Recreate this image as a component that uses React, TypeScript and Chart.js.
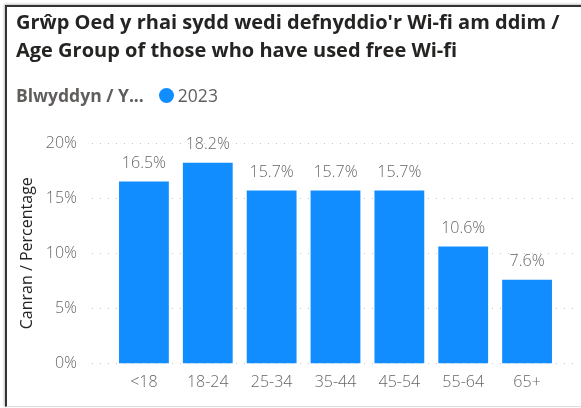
import React, { useEffect, useRef } from "react";
import { Chart, registerables } from "chart.js";

Chart.register(...registerables);

const titleLines = [
  "Grŵp Oed y rhai sydd wedi defnyddio'r Wi-fi am ddim /",
  "Age Group of those who have used free Wi-fi",
];
const legendTitle = "Blwyddyn / Y...";
const seriesName = "2023";
const categories = ["<18", "18-24", "25-34", "35-44", "45-54", "55-64", "65+"];
const values = [16.5, 18.2, 15.7, 15.7, 15.7, 10.6, 7.6];
const yTicks = [0, 5, 10, 15, 20];
const yAxisTitle = "Canran / Percentage";

const BLUE = "#118DFF";
const FONT = "'Open Sans', 'Noto Sans', sans-serif";

const gridPlugin = {
  id: "dottedGrid",
  beforeDatasetsDraw(chart: any) {
    const { ctx } = chart;
    const y = chart.scales.y;
    ctx.save();
    ctx.strokeStyle = "#C8C6C4";
    ctx.lineWidth = 1;
    ctx.setLineDash([1, 7]);
    y.ticks.forEach((t: any) => {
      const py = Math.round(y.getPixelForValue(t.value)) + 0.5;
      ctx.beginPath();
      ctx.moveTo(92, py);
      ctx.lineTo(576, py);
      ctx.stroke();
    });
    ctx.restore();
  },
};

const labelPlugin = {
  id: "barLabels",
  afterDatasetsDraw(chart: any) {
    const { ctx } = chart;
    const meta = chart.getDatasetMeta(0);
    ctx.save();
    ctx.fillStyle = "#666666";
    ctx.font = `300 16px ${FONT}`;
    ctx.textAlign = "center";
    ctx.textBaseline = "middle";
    meta.data.forEach((bar: any, i: number) => {
      ctx.fillText(values[i].toFixed(1) + "%", bar.x, bar.y - 18);
    });
    ctx.restore();
  },
};

export default function App() {
  const ref = useRef<HTMLCanvasElement>(null);
  useEffect(() => {
    if (!ref.current) return;
    const chart = new Chart(ref.current, {
      type: "bar",
      data: {
        labels: categories,
        datasets: [
          {
            label: seriesName,
            data: values,
            backgroundColor: BLUE,
            borderWidth: 0,
            barPercentage: 0.78,
            categoryPercentage: 1,
          },
        ],
      },
      options: {
        animation: false,
        responsive: false,
        maintainAspectRatio: false,
        layout: { padding: { top: 143, left: 18, right: 22, bottom: 0 } },
        plugins: {
          legend: { display: false },
          tooltip: { enabled: false },
          title: { display: false },
        },
        scales: {
          x: {
            grid: { display: false, drawTicks: false },
            border: { display: false },
            ticks: {
              color: "#666666",
              font: { family: FONT, size: 16, weight: "300" },
              padding: 9,
              maxRotation: 0,
            },
            afterFit(scale: any) {
              scale.height = 42;
            },
          },
          y: {
            min: 0,
            max: 20,
            afterBuildTicks(scale: any) {
              scale.ticks = yTicks.map((v) => ({ value: v }));
            },
            grid: { display: false, drawTicks: false },
            border: { display: false },
            ticks: {
              color: "#666666",
              font: { family: FONT, size: 16, weight: "300" },
              padding: 35,
              callback: (v: any) => v + "%",
            },
            title: {
              display: true,
              text: yAxisTitle,
              color: "#252423",
              font: { family: FONT, size: 16 },
              padding: { top: 0, bottom: 0 },
            },
            afterFit(scale: any) {
              scale.width = 94;
            },
          },
        },
      },
      plugins: [gridPlugin, labelPlugin],
    });
    return () => chart.destroy();
  }, []);

  return (
    <div
      style={{
        position: "absolute",
        left: 0,
        top: 0,
        width: 581,
        height: 408,
        background: "#fff",
        overflow: "hidden",
        fontFamily: FONT,
      }}
    >
      <div
        style={{
          position: "absolute",
          left: 5,
          top: 5,
          width: 600,
          height: 399,
          borderLeft: "2px solid #333",
          borderTop: "2px solid #333",
          borderBottom: "1px solid #ddd",
          boxShadow: "-1px -1px 2px rgba(0,0,0,0.25)",
        }}
      />
      <canvas
        ref={ref}
        width={581}
        height={408}
        style={{ position: "absolute", left: 0, top: 0 }}
      />
      <div
        style={{
          position: "absolute",
          left: 16,
          top: 8,
          fontWeight: 700,
          fontSize: 20,
          lineHeight: "28px",
          color: "#252423",
          whiteSpace: "nowrap",
        }}
      >
        {titleLines.map((l, i) => (
          <div key={i}>{l}</div>
        ))}
      </div>
      <div
        style={{
          position: "absolute",
          left: 16,
          top: 83,
          height: 24,
          display: "flex",
          alignItems: "center",
          fontSize: 17.5,
          color: "#605E5C",
          whiteSpace: "nowrap",
        }}
      >
        <span style={{ fontWeight: 700 }}>{legendTitle}</span>
        <span
          style={{
            display: "inline-block",
            width: 15,
            height: 15,
            borderRadius: "50%",
            background: BLUE,
            marginLeft: 15,
            marginRight: 4,
          }}
        />
        <span>{seriesName}</span>
      </div>
    </div>
  );
}
